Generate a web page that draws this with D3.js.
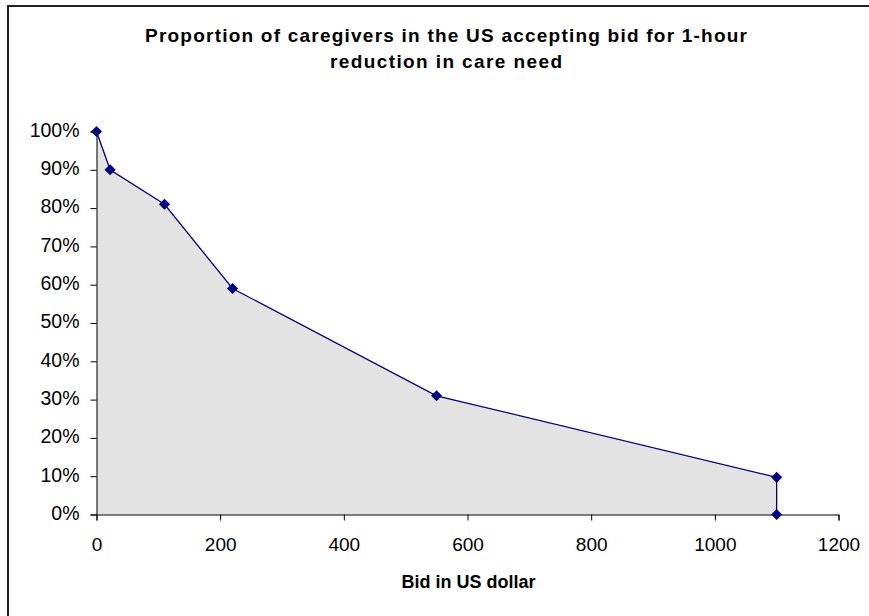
<!DOCTYPE html>
<html>
<head>
<meta charset="utf-8">
<script src="https://cdn.jsdelivr.net/npm/d3@7"></script>
<style>
  html, body { margin: 0; padding: 0; background: #fff; }
  svg { display: block; }
  text { font-family: Arial, "Liberation Sans", sans-serif; fill: #000; }
</style>
</head>
<body>
<svg id="chart" width="869" height="616"></svg>
<script>
// ---- data ----
const bids = [0, 22, 110, 220, 550, 1100, 1100];
const shares = [1.00, 0.90, 0.81, 0.59, 0.31, 0.097, 0];
const xTicks = [0, 200, 400, 600, 800, 1000, 1200];
const yTicks = [0, 0.1, 0.2, 0.3, 0.4, 0.5, 0.6, 0.7, 0.8, 0.9, 1.0];
const titleLines = ["Proportion of caregivers in the US accepting bid for 1-hour", "reduction in care need"];
const xTitle = "Bid in US dollar";

const svg = d3.select("#chart");
const W = 869, H = 616;

// frame (top and left edges visible)
svg.append("line").attr("x1", 7).attr("x2", W).attr("y1", 6).attr("y2", 6)
  .attr("stroke", "#222").attr("stroke-width", 2);
svg.append("line").attr("x1", 8).attr("x2", 8).attr("y1", 5).attr("y2", H)
  .attr("stroke", "#222").attr("stroke-width", 2);

const x = d3.scaleLinear().domain([0, 1200]).range([96.5, 838.5]);
const y = d3.scaleLinear().domain([0, 1]).range([514.5, 131.5]);

const pts = bids.map((b, i) => ({ b, s: shares[i] }));

// area
const area = d3.area().x(d => x(d.b)).y0(y(0)).y1(d => y(d.s));
svg.append("path").datum(pts).attr("d", area).attr("fill", "#e3e3e3");

// axes
const xAxis = d3.axisBottom(x).tickValues(xTicks).tickSize(6).tickPadding(17).tickFormat(d3.format("d"));
const gx = svg.append("g").attr("transform", `translate(0,${y(0)})`).call(xAxis);
gx.select(".domain").attr("stroke", "#000");
gx.selectAll(".tick line").attr("stroke", "#000");
gx.selectAll("text").attr("font-size", 19).attr("font-family", "Arial, 'Liberation Sans', sans-serif").attr("fill", "#111");

const yAxis = d3.axisLeft(y).tickValues(yTicks).tickSize(6).tickPadding(11).tickFormat(d3.format(".0%"));
const gy = svg.append("g").attr("transform", `translate(${x(0)},0)`).call(yAxis);
gy.select(".domain").attr("stroke", "#000");
gy.selectAll(".tick line").attr("stroke", "#000");
gy.selectAll("text").attr("font-size", 19.5).attr("font-family", "Arial, 'Liberation Sans', sans-serif").attr("fill", "#111").attr("dy", "0.25em");

// line
const line = d3.line().x(d => x(d.b)).y(d => y(d.s));
svg.append("path").datum(pts).attr("d", line).attr("fill", "none")
  .attr("stroke", "#000080").attr("stroke-width", 1.3);

// markers
const diamond = d3.symbol().type(d3.symbolSquare).size(62);
svg.append("g").selectAll("path").data(pts).join("path")
  .attr("d", diamond)
  .attr("transform", d => `translate(${x(d.b)},${y(d.s)}) rotate(45)`)
  .attr("fill", "#000080");

// title
svg.append("text").attr("x", 446).attr("y", 42).attr("text-anchor", "middle")
  .attr("font-size", 19).attr("font-weight", "bold")
  .attr("textLength", 602).attr("lengthAdjust", "spacing")
  .text(titleLines[0]);
svg.append("text").attr("x", 446).attr("y", 68).attr("text-anchor", "middle")
  .attr("font-size", 19).attr("font-weight", "bold")
  .attr("textLength", 232).attr("lengthAdjust", "spacing")
  .text(titleLines[1]);

// x axis title
svg.append("text").attr("x", 468.5).attr("y", 588).attr("text-anchor", "middle")
  .attr("font-size", 18).attr("font-weight", "bold")
  .text(xTitle);
</script>
</body>
</html>
